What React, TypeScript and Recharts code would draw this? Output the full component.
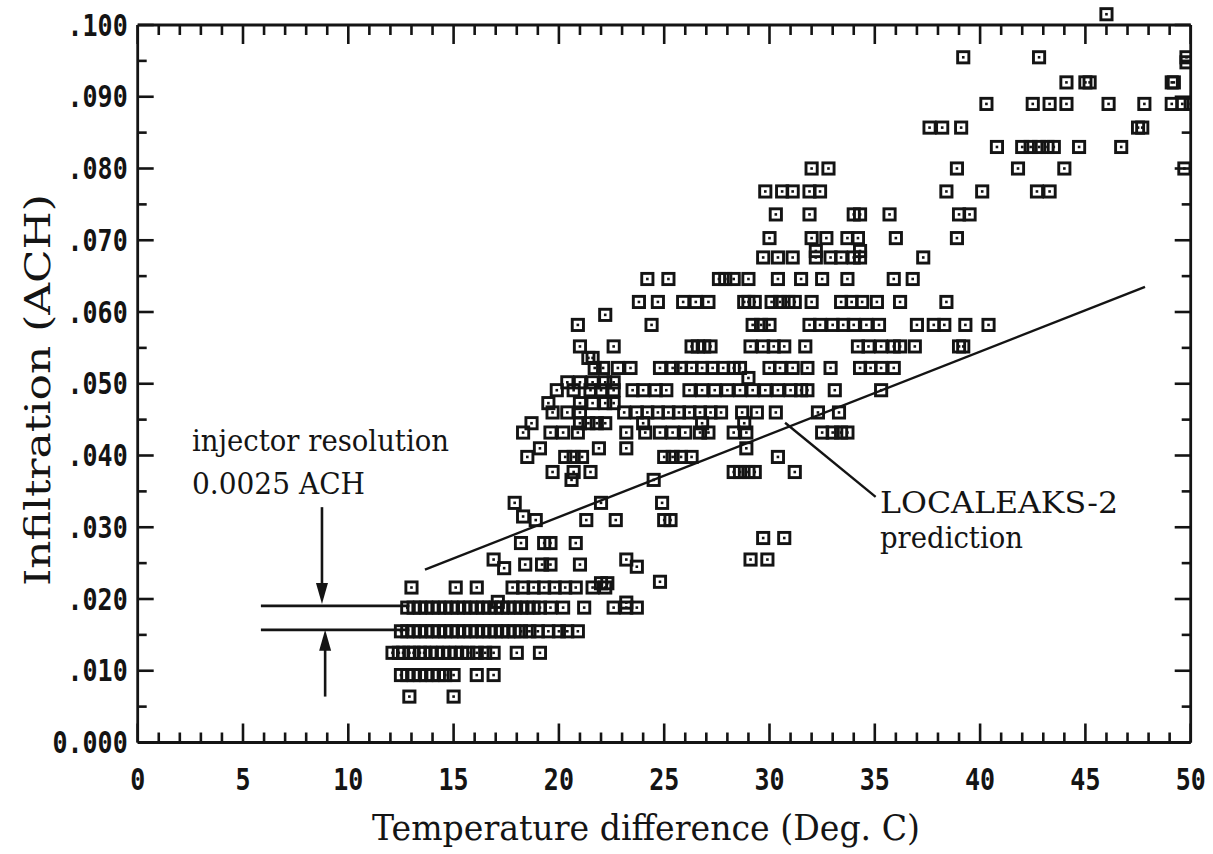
import React from 'react';
import { ScatterChart, Scatter, XAxis, YAxis, ReferenceLine, ReferenceDot } from 'recharts';

const W = 1213;
const H = 854;

// temperature difference values (Deg. C) per infiltration row (ACH)
const row0064 = [12.9, 15.0];
const row0094 = [12.5, 12.8, 13.1, 13.4, 13.7, 14.0, 14.3, 14.6, 15.0, 16.1, 16.9];
const row0125 = [12.1, 12.4, 12.6, 12.9, 13.1, 13.4, 13.6, 13.9, 14.2, 14.5, 14.8, 15.1, 15.4, 15.7, 16.1, 16.5, 16.9, 18.0, 19.1];
const row0155 = [12.5, 12.8, 13.1, 13.4, 13.7, 14.0, 14.3, 14.6, 14.9, 15.2, 15.5, 15.8, 16.1, 16.4, 16.7, 17.0, 17.3, 17.6, 17.9, 18.2, 18.6, 19.0, 19.5, 20.0, 20.4, 20.9];
const row0188 = [12.8, 13.1, 13.4, 13.7, 14.0, 14.3, 14.6, 14.9, 15.2, 15.5, 15.8, 16.1, 16.4, 16.7, 17.0, 17.3, 17.6, 17.9, 18.2, 18.5, 18.8, 19.1, 19.6, 20.2, 21.2, 22.6, 23.2, 23.7];
const row0216 = [13.0, 15.1, 16.1, 17.8, 18.3, 18.8, 19.3, 19.8, 20.3, 20.8, 21.6, 22.2];
const row0248 = [18.4, 19.2, 19.6, 21.0];
const row0278 = [18.2, 19.3, 19.6, 20.8];
const row0310 = [18.9, 21.3, 22.7, 25.0, 25.3];
const row0334 = [17.9, 22.0, 24.9];
const row0366 = [20.6, 24.5];
const row0377 = [19.7, 20.7, 21.5, 28.3, 28.6, 29.0, 29.3, 31.2];
const row0398 = [18.5, 20.3, 20.7, 21.1, 25.0, 25.4, 25.8, 26.3, 30.4];
const row0410 = [19.1, 21.9, 23.2, 28.9];
const row0432 = [18.3, 19.6, 20.2, 20.9, 23.2, 24.1, 24.8, 25.4, 26.0, 26.7, 27.1, 28.3, 28.9, 32.5, 33.0, 33.4, 33.7];
const row0445 = [18.7, 21.0, 21.4, 21.8, 22.2, 24.0, 26.8, 28.8];
const row0460 = [19.7, 20.4, 21.0, 23.1, 23.7, 24.2, 24.7, 25.2, 25.7, 26.2, 26.7, 27.2, 27.7, 28.7, 29.4, 30.3, 32.3, 33.3];
const row0473 = [19.5, 21.0, 21.6, 22.2, 22.6];
const row0491 = [19.9, 20.7, 21.5, 22.0, 22.6, 23.5, 24.0, 24.6, 25.1, 26.2, 26.8, 27.4, 28.0, 28.6, 29.2, 29.8, 30.4, 31.0, 31.5, 31.8, 33.1, 35.3];
const row0502 = [20.4, 21.0, 21.6, 22.2, 22.6];
const row0522 = [21.7, 22.1, 22.8, 23.4, 24.8, 25.4, 25.8, 26.3, 26.8, 27.3, 27.8, 28.3, 28.6, 30.0, 30.5, 31.1, 31.8, 32.9, 34.3, 34.8, 35.3, 35.9];
const row0536 = [21.4, 21.6];
const row0552 = [21.0, 22.6, 26.3, 26.6, 26.9, 27.2, 29.1, 29.7, 30.2, 30.7, 31.7, 34.2, 34.7, 35.3, 35.9, 36.2, 36.9, 39.0, 39.2];
const row0582 = [20.9, 24.4, 29.2, 29.6, 30.0, 31.9, 32.4, 33.0, 33.5, 34.0, 34.6, 35.2, 37.0, 37.8, 38.3, 39.3, 40.4];
const row0596 = [22.2];
const row0614 = [23.8, 24.7, 25.9, 26.5, 27.1, 28.8, 29.0, 29.3, 30.1, 30.5, 30.9, 31.2, 32.0, 33.4, 33.9, 34.4, 35.1, 36.2, 38.4];
const row0646 = [24.2, 25.2, 27.6, 27.9, 28.3, 29.0, 30.4, 31.5, 32.5, 33.7, 35.9, 36.8];
const row0676 = [29.7, 30.4, 31.1, 32.2, 32.9, 33.4, 34.0, 34.3, 37.3];
const row0703 = [30.0, 32.0, 32.7, 33.7, 34.2, 36.0, 38.9];
const row0736 = [30.3, 31.9, 34.0, 34.3, 35.7, 39.0, 39.5];
const row0768 = [29.8, 30.6, 31.1, 31.9, 32.4, 38.4, 40.1, 42.7, 43.3];
const row0800 = [32.0, 32.8, 38.9, 41.8, 44.0, 49.7];
const row0830 = [40.8, 42.0, 42.4, 42.8, 43.2, 43.5, 44.7, 46.7];
const row0857 = [37.6, 38.2, 39.1, 47.5, 47.7];
const row0890 = [40.3, 42.5, 43.3, 44.1, 46.1, 47.8, 49.1, 49.6, 50.0];
const row0920 = [44.1, 45.0, 45.2, 49.1, 49.2];
const row0955 = [39.2, 42.8, 49.8];

// points sitting between rows
const extraTemp = [22.0, 22.3, 24.8, 16.9, 17.4, 23.2, 23.7, 29.1, 29.9, 29.7, 30.7, 18.3, 29.0, 32.2, 34.3, 49.8, 23.2, 17.1];
const extraAch = [0.0222, 0.0222, 0.0224, 0.0255, 0.0243, 0.0255, 0.0245, 0.0255, 0.0255, 0.0285, 0.0285, 0.0315, 0.0508, 0.0685, 0.0685, 0.0948, 0.0195, 0.0196];

// the one reading above the top of the frame
const outlierTemp = 46.0;
const outlierAch = 0.1015;

// LOCALEAKS-2 prediction (end points)
const predTemp = [13.64, 47.83];
const predAch = [0.0241, 0.0635];

// injector resolution marks
const injectorAch = [0.01904, 0.01569];
const injectorTemp = [5.85, 12.9];

const rows: [number, number[]][] = [
  [0.0064, row0064], [0.0094, row0094], [0.0125, row0125], [0.0155, row0155], [0.0188, row0188],
  [0.0216, row0216], [0.0248, row0248], [0.0278, row0278], [0.031, row0310], [0.0334, row0334],
  [0.0366, row0366], [0.0377, row0377], [0.0398, row0398], [0.041, row0410], [0.0432, row0432],
  [0.0445, row0445], [0.046, row0460], [0.0473, row0473], [0.0491, row0491], [0.0502, row0502],
  [0.0522, row0522], [0.0536, row0536], [0.0552, row0552], [0.0582, row0582], [0.0596, row0596],
  [0.0614, row0614], [0.0646, row0646], [0.0676, row0676], [0.0703, row0703], [0.0736, row0736],
  [0.0768, row0768], [0.08, row0800], [0.083, row0830], [0.0857, row0857], [0.089, row0890],
  [0.092, row0920], [0.0955, row0955],
];

const points = [
  ...rows.flatMap(([a, ts]) => ts.map((t) => ({ t, a }))),
  ...extraTemp.map((t, i) => ({ t, a: extraAch[i] })),
];

const xTicks = Array.from({ length: 51 }, (_, i) => i);
const yTicks = Array.from({ length: 21 }, (_, i) => Math.round(i * 5) / 1000);
const xLabelTicks = [0, 5, 10, 15, 20, 25, 30, 35, 40, 45, 50];
const yLabelTicks = [0, 0.01, 0.02, 0.03, 0.04, 0.05, 0.06, 0.07, 0.08, 0.09, 0.1];
const yTickLabels = ['0.000', '.010', '.020', '.030', '.040', '.050', '.060', '.070', '.080', '.090', '.100'];

const INK = '#141414';
const tickFont = { fontFamily: 'DejaVu Sans Mono', fontWeight: 700, fontSize: 25, fill: INK };

const Square = (props: any) => {
  const { cx, cy } = props;
  if (cx == null || cy == null) return null;
  return (
    <g>
      <rect x={cx - 5.6} y={cy - 5.6} width={11.2} height={11.2} fill="none" stroke={INK} strokeWidth={2.9} />
      <rect x={cx - 1.3} y={cy - 1.3} width={2.6} height={2.6} fill={INK} />
    </g>
  );
};

const arrowDown = (props: any) => {
  const { cx, cy } = props;
  return <polygon points={`${cx},${cy} ${cx - 6},${cy - 21} ${cx + 6},${cy - 21}`} fill={INK} />;
};

const arrowUp = (props: any) => {
  const { cx, cy } = props;
  return <polygon points={`${cx},${cy} ${cx - 6},${cy + 21} ${cx + 6},${cy + 21}`} fill={INK} />;
};

// inward tick marks, drawn at scale positions on each side of the frame
const tickMark = (side: 'bottom' | 'top' | 'left' | 'right', major: boolean) => (props: any) => {
  const { cx, cy } = props;
  if (cx == null || cy == null) return null;
  const xLen = major ? 19 : 10;
  const yLen = major ? 16 : 9;
  if (side === 'bottom') return <line x1={cx} x2={cx} y1={cy} y2={cy - xLen} stroke={INK} strokeWidth={2.6} />;
  if (side === 'top') return <line x1={cx} x2={cx} y1={cy} y2={cy + xLen} stroke={INK} strokeWidth={2.6} />;
  if (side === 'left') return <line x1={cx} x2={cx + yLen} y1={cy} y2={cy} stroke={INK} strokeWidth={2.6} />;
  return <line x1={cx} x2={cx - yLen} y1={cy} y2={cy} stroke={INK} strokeWidth={2.6} />;
};

const BottomLabel = (props: any) => {
  const { x, y, payload } = props;
  return (
    <text transform={`translate(${x},${y + 47}) scale(1,1.18)`} textAnchor="middle" {...tickFont}>
      {payload.value}
    </text>
  );
};

const LeftLabel = (props: any) => {
  const { x, y, payload } = props;
  const k = Math.round(payload.value * 100);
  return (
    <text transform={`translate(${x},${y + 10.5}) scale(1,1.18)`} textAnchor="end" {...tickFont}>
      {yTickLabels[k]}
    </text>
  );
};

const serif = { fontFamily: 'DejaVu Serif', fill: INK };

export default function App() {
  const axisLine = { stroke: INK, strokeWidth: 2.8 };
  return (
    <div style={{ position: 'absolute', left: 0, top: 0, width: W, height: H, background: '#fff' }}>
      <ScatterChart width={W} height={H} margin={{ top: 25, right: 22.3, bottom: 51.5, left: 7.7 }}>
        <XAxis
          type="number"
          dataKey="t"
          domain={[0, 50]}
          allowDataOverflow
          ticks={xLabelTicks}
          interval={0}
          height={60}
          tickSize={0}
          tickMargin={0}
          tickLine={false}
          axisLine={axisLine}
          tick={<BottomLabel />}
        />
        <YAxis
          type="number"
          dataKey="a"
          domain={[0, 0.1]}
          allowDataOverflow
          ticks={yLabelTicks}
          interval={0}
          width={130}
          tickSize={0}
          tickMargin={10}
          tickLine={false}
          axisLine={axisLine}
          tick={<LeftLabel />}
        />
        <ReferenceLine y={0.1} stroke={INK} strokeWidth={2.8} ifOverflow="visible" />
        <ReferenceLine x={50} stroke={INK} strokeWidth={2.8} ifOverflow="visible" />
        {xTicks.map((t) => (
          <ReferenceDot key={`b${t}`} x={t} y={0} ifOverflow="visible" shape={tickMark('bottom', t % 5 === 0)} />
        ))}
        {xTicks.map((t) => (
          <ReferenceDot key={`t${t}`} x={t} y={0.1} ifOverflow="visible" shape={tickMark('top', t % 5 === 0)} />
        ))}
        {yTicks.map((v) => (
          <ReferenceDot
            key={`l${v}`}
            x={0}
            y={v}
            ifOverflow="visible"
            shape={tickMark('left', Math.round(v * 1000) % 10 === 0)}
          />
        ))}
        {yTicks.map((v) => (
          <ReferenceDot
            key={`r${v}`}
            x={50}
            y={v}
            ifOverflow="visible"
            shape={tickMark('right', Math.round(v * 1000) % 10 === 0)}
          />
        ))}
        <Scatter data={points} shape={<Square />} isAnimationActive={false} />
        <ReferenceDot x={outlierTemp} y={outlierAch} ifOverflow="visible" shape={<Square />} />
        <ReferenceLine
          segment={[{ x: predTemp[0], y: predAch[0] }, { x: predTemp[1], y: predAch[1] }]}
          stroke={INK}
          strokeWidth={2.4}
          ifOverflow="visible"
        />
        <ReferenceLine
          segment={[{ x: 30.74, y: 0.04456 }, { x: 35.04, y: 0.03424 }]}
          stroke={INK}
          strokeWidth={2.4}
          ifOverflow="visible"
        />
        <ReferenceLine
          segment={[{ x: injectorTemp[0], y: injectorAch[0] }, { x: injectorTemp[1], y: injectorAch[0] }]}
          stroke={INK}
          strokeWidth={2.6}
          ifOverflow="visible"
        />
        <ReferenceLine
          segment={[{ x: injectorTemp[0], y: injectorAch[1] }, { x: injectorTemp[1], y: injectorAch[1] }]}
          stroke={INK}
          strokeWidth={2.6}
          ifOverflow="visible"
        />
        <ReferenceLine
          segment={[{ x: 8.75, y: 0.0328 }, { x: 8.75, y: 0.0215 }]}
          stroke={INK}
          strokeWidth={2.6}
          ifOverflow="visible"
        />
        <ReferenceDot x={8.75} y={0.0193} ifOverflow="visible" shape={arrowDown} />
        <ReferenceLine
          segment={[{ x: 8.9, y: 0.0064 }, { x: 8.9, y: 0.0135 }]}
          stroke={INK}
          strokeWidth={2.6}
          ifOverflow="visible"
        />
        <ReferenceDot x={8.9} y={0.0157} ifOverflow="visible" shape={arrowUp} />
      </ScatterChart>
      <svg width={W} height={H} style={{ position: 'absolute', left: 0, top: 0, pointerEvents: 'none' }}>
        <text
          transform="translate(50,390) rotate(-90)"
          textAnchor="middle"
          fontSize={36}
          textLength={392}
          lengthAdjust="spacingAndGlyphs"
          {...serif}
        >
          Infiltration (ACH)
        </text>
        <text x={646} y={840} textAnchor="middle" fontSize={36} textLength={548} lengthAdjust="spacingAndGlyphs" {...serif}>
          Temperature difference (Deg. C)
        </text>
        <text x={192} y={451} fontSize={29} textLength={257} lengthAdjust="spacingAndGlyphs" {...serif}>
          injector resolution
        </text>
        <text x={192} y={494} fontSize={29} textLength={173} lengthAdjust="spacingAndGlyphs" {...serif}>
          0.0025 ACH
        </text>
        <text x={880} y={513} fontSize={29} textLength={238} lengthAdjust="spacingAndGlyphs" {...serif}>
          LOCALEAKS-2
        </text>
        <text x={880} y={548} fontSize={29} textLength={143} lengthAdjust="spacingAndGlyphs" {...serif}>
          prediction
        </text>
      </svg>
    </div>
  );
}
